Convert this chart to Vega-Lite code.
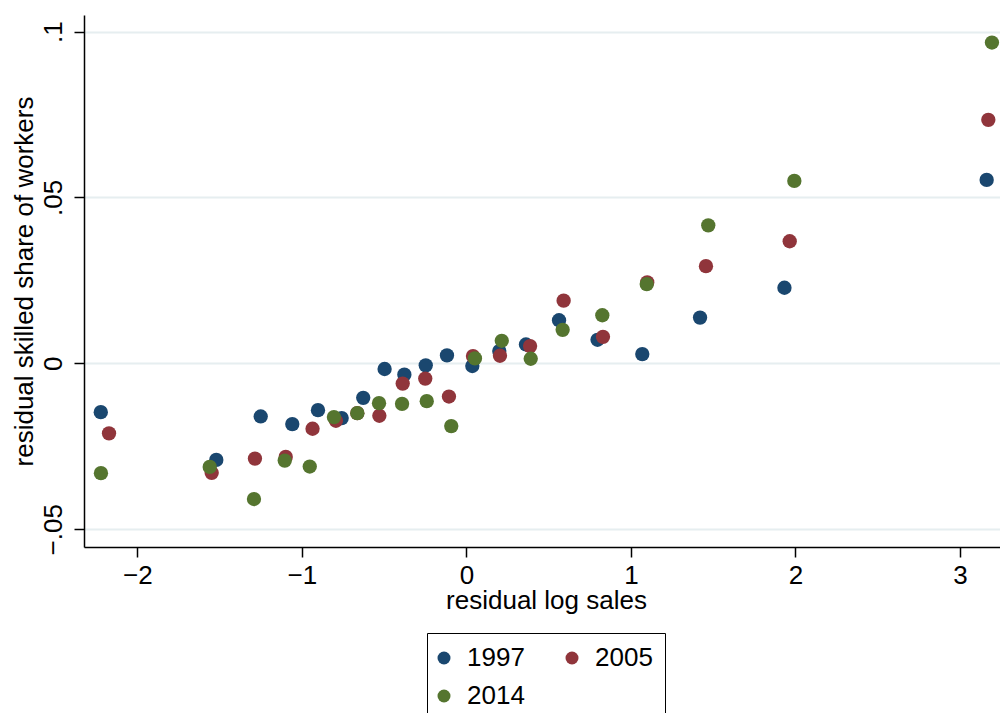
{
  "$schema": "https://vega.github.io/schema/vega-lite/v6.json",
  "width": 916,
  "height": 532,
  "autosize": "none",
  "padding": {"left": 84, "top": 15, "right": 0, "bottom": 166},
  "background": "white",
  "config": {"view": {"stroke": null}, "font": "Liberation Sans"},
  "data": {"values": [
    {"year": "1997", "log_sales": -2.222, "skilled_share": -0.0147},
    {"year": "1997", "log_sales": -1.520, "skilled_share": -0.0291},
    {"year": "1997", "log_sales": -1.250, "skilled_share": -0.0160},
    {"year": "1997", "log_sales": -1.058, "skilled_share": -0.0183},
    {"year": "1997", "log_sales": -0.902, "skilled_share": -0.0141},
    {"year": "1997", "log_sales": -0.758, "skilled_share": -0.0165},
    {"year": "1997", "log_sales": -0.627, "skilled_share": -0.0104},
    {"year": "1997", "log_sales": -0.497, "skilled_share": -0.0017},
    {"year": "1997", "log_sales": -0.377, "skilled_share": -0.0034},
    {"year": "1997", "log_sales": -0.247, "skilled_share": -0.0006},
    {"year": "1997", "log_sales": -0.118, "skilled_share": 0.0024},
    {"year": "1997", "log_sales": 0.036, "skilled_share": -0.0008},
    {"year": "1997", "log_sales": 0.200, "skilled_share": 0.0037},
    {"year": "1997", "log_sales": 0.362, "skilled_share": 0.0057},
    {"year": "1997", "log_sales": 0.563, "skilled_share": 0.0130},
    {"year": "1997", "log_sales": 0.797, "skilled_share": 0.0071},
    {"year": "1997", "log_sales": 1.069, "skilled_share": 0.0028},
    {"year": "1997", "log_sales": 1.420, "skilled_share": 0.0138},
    {"year": "1997", "log_sales": 1.933, "skilled_share": 0.0228},
    {"year": "1997", "log_sales": 3.162, "skilled_share": 0.0553},
    {"year": "2005", "log_sales": -2.172, "skilled_share": -0.0211},
    {"year": "2005", "log_sales": -1.548, "skilled_share": -0.0330},
    {"year": "2005", "log_sales": -1.285, "skilled_share": -0.0287},
    {"year": "2005", "log_sales": -1.098, "skilled_share": -0.0282},
    {"year": "2005", "log_sales": -0.935, "skilled_share": -0.0197},
    {"year": "2005", "log_sales": -0.793, "skilled_share": -0.0173},
    {"year": "2005", "log_sales": -0.663, "skilled_share": -0.0150},
    {"year": "2005", "log_sales": -0.529, "skilled_share": -0.0158},
    {"year": "2005", "log_sales": -0.387, "skilled_share": -0.0061},
    {"year": "2005", "log_sales": -0.250, "skilled_share": -0.0046},
    {"year": "2005", "log_sales": -0.106, "skilled_share": -0.0100},
    {"year": "2005", "log_sales": 0.040, "skilled_share": 0.0022},
    {"year": "2005", "log_sales": 0.204, "skilled_share": 0.0023},
    {"year": "2005", "log_sales": 0.387, "skilled_share": 0.0052},
    {"year": "2005", "log_sales": 0.591, "skilled_share": 0.0189},
    {"year": "2005", "log_sales": 0.830, "skilled_share": 0.0080},
    {"year": "2005", "log_sales": 1.099, "skilled_share": 0.0244},
    {"year": "2005", "log_sales": 1.456, "skilled_share": 0.0293},
    {"year": "2005", "log_sales": 1.965, "skilled_share": 0.0368},
    {"year": "2005", "log_sales": 3.172, "skilled_share": 0.0734},
    {"year": "2014", "log_sales": -2.221, "skilled_share": -0.0331},
    {"year": "2014", "log_sales": -1.560, "skilled_share": -0.0312},
    {"year": "2014", "log_sales": -1.291, "skilled_share": -0.0409},
    {"year": "2014", "log_sales": -1.104, "skilled_share": -0.0293},
    {"year": "2014", "log_sales": -0.952, "skilled_share": -0.0311},
    {"year": "2014", "log_sales": -0.805, "skilled_share": -0.0162},
    {"year": "2014", "log_sales": -0.663, "skilled_share": -0.0150},
    {"year": "2014", "log_sales": -0.531, "skilled_share": -0.0120},
    {"year": "2014", "log_sales": -0.391, "skilled_share": -0.0122},
    {"year": "2014", "log_sales": -0.241, "skilled_share": -0.0114},
    {"year": "2014", "log_sales": -0.092, "skilled_share": -0.0189},
    {"year": "2014", "log_sales": 0.052, "skilled_share": 0.0015},
    {"year": "2014", "log_sales": 0.215, "skilled_share": 0.0068},
    {"year": "2014", "log_sales": 0.391, "skilled_share": 0.0014},
    {"year": "2014", "log_sales": 0.585, "skilled_share": 0.0101},
    {"year": "2014", "log_sales": 0.826, "skilled_share": 0.0145},
    {"year": "2014", "log_sales": 1.096, "skilled_share": 0.0239},
    {"year": "2014", "log_sales": 1.470, "skilled_share": 0.0416},
    {"year": "2014", "log_sales": 1.993, "skilled_share": 0.0550},
    {"year": "2014", "log_sales": 3.194, "skilled_share": 0.0967}
  ]},
  "mark": {"type": "point", "filled": true, "opacity": 1, "size": 205, "shape": "circle"},
  "encoding": {
    "x": {
      "field": "log_sales", "type": "quantitative",
      "scale": {"domain": [-2.324, 3.243], "nice": false, "zero": false},
      "axis": {
        "title": "residual log sales", "values": [-2, -1, 0, 1, 2, 3], "grid": false,
        "domainColor": "#000", "domainWidth": 1.5, "tickColor": "#000", "tickWidth": 1.5, "tickSize": 10,
        "labelFontSize": 26, "labelColor": "#000", "labelPadding": 5, "labelFlush": false,
        "titleFontSize": 26, "titleFontWeight": "normal", "titleColor": "#000",
        "titleBaseline": "alphabetic", "titleY": 61, "titleX": 462
      }
    },
    "y": {
      "field": "skilled_share", "type": "quantitative",
      "scale": {"domain": [-0.05535, 0.105], "nice": false, "zero": false},
      "axis": {
        "title": "residual skilled share of workers", "values": [-0.05, 0, 0.05, 0.1],
        "grid": true, "gridColor": "#e6eef0", "gridWidth": 2,
        "domainColor": "#000", "domainWidth": 1.5, "tickColor": "#000", "tickWidth": 1.5, "tickSize": 10,
        "labelFontSize": 26, "labelColor": "#000", "labelAngle": -90, "labelAlign": "center",
        "labelBaseline": "alphabetic", "labelPadding": 13, "labelFlush": false,
        "labelExpr": "replace(format(datum.value, '.2~f'), '0.', '.')",
        "titleFontSize": 26, "titleFontWeight": "normal", "titleColor": "#000",
        "titleAngle": -90, "titleBaseline": "alphabetic", "titleX": -52, "titleY": 266, "titleAlign": "center"
      }
    },
    "color": {
      "field": "year", "type": "nominal",
      "scale": {"domain": ["1997", "2005", "2014"], "range": ["#1a476f", "#90353b", "#55752f"]},
      "legend": {
        "orient": "none", "legendX": 343, "legendY": 618, "direction": "horizontal", "columns": 2,
        "title": null, "strokeColor": "#000", "padding": 12, "symbolSize": 169, "symbolType": "circle",
        "symbolStrokeWidth": 0, "symbolOpacity": 1, "symbolOffset": -8, "labelFontSize": 26, "labelColor": "#000",
        "labelOffset": 10, "columnPadding": 40, "rowPadding": 12
      }
    }
  }
}
